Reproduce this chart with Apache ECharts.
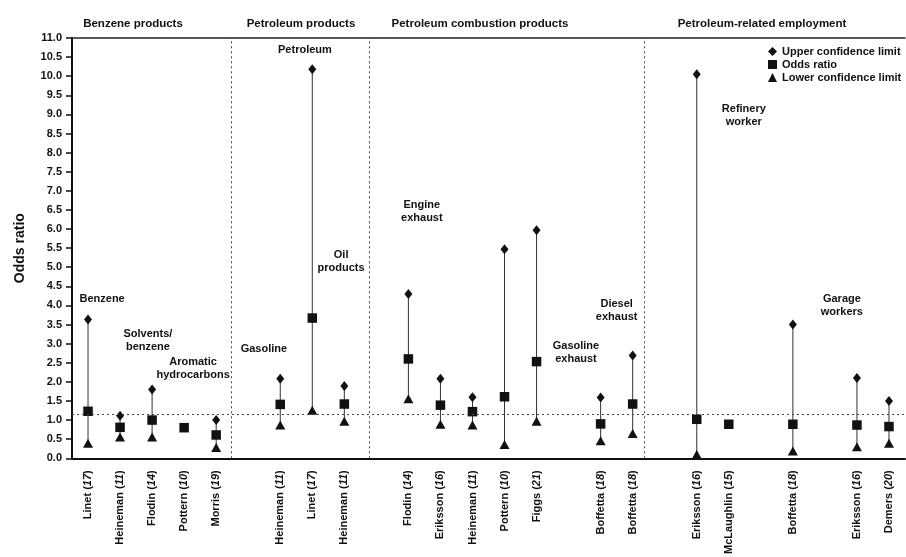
<!DOCTYPE html>
<html>
<head>
<meta charset="utf-8">
<script src="https://cdn.jsdelivr.net/npm/echarts@6/dist/echarts.min.js"></script>
<style>html,body{margin:0;padding:0;background:#fff}#c{width:906px;height:557px}</style>
</head>
<body>
<div id="c"></div>
<script>
// ---- data ----
const authors = ['Linet','Heineman','Flodin','Pottern','Morris',null,'Heineman','Linet','Heineman',null,'Flodin','Eriksson','Heineman','Pottern','Figgs',null,'Boffetta','Boffetta',null,'Eriksson','McLaughlin',null,'Boffetta',null,'Eriksson','Demers'];
const refs = ['17','11','14','10','19',null,'11','17','11',null,'14','16','11','10','21',null,'18','18',null,'16','15',null,'18',null,'16','20'];
const upper = [3.63,1.11,1.8,null,1.0,null,2.08,10.18,1.89,null,4.3,2.08,1.6,5.47,5.97,null,1.59,2.69,null,10.05,null,null,3.5,null,2.1,1.5];
const oddsRatio = [1.23,0.81,1.0,0.8,0.61,null,1.41,3.67,1.42,null,2.6,1.39,1.22,1.61,2.53,null,0.9,1.42,null,1.02,0.89,null,0.89,null,0.87,0.83];
const lower = [0.39,0.56,0.56,null,0.28,null,0.87,1.26,0.97,null,1.56,0.89,0.87,0.36,0.97,null,0.46,0.65,null,0.1,null,null,0.19,null,0.3,0.39];
const referenceLine = 1.15;
const dividers = [4.96, 9.27, 17.85];
const groupTitles = ['Benzene products','Petroleum products','Petroleum combustion products','Petroleum-related employment'];
const annoText = ['Benzene','Solvents/\nbenzene','Aromatic\nhydrocarbons','Gasoline','Petroleum','Oil\nproducts','Engine\nexhaust','Gasoline\nexhaust','Diesel\nexhaust','Refinery\nworker','Garage\nworkers'];
const annoX = [0.94,2.37,3.78,5.99,7.27,8.4,10.92,15.73,17.0,20.97,24.03];
const annoY = [4.17,3.09,2.36,2.86,10.68,5.14,6.45,2.77,3.87,8.96,4.01];
const yTicks = {min:0, max:11, step:0.5};

// ---- chart ----
const FONT = "'Liberation Sans',Arial,sans-serif";
const INK = '#111';
const categories = authors.map((a,i)=> a ? a + ' (' + refs[i] + ')' : '');
const idx = authors.map((_,i)=>i);
const pts = arr => idx.map(i => arr[i] == null ? null : [i, arr[i]]).filter(Boolean);
const ranges = idx.filter(i => upper[i] != null && lower[i] != null).map(i => [i, lower[i], upper[i]]);

const chart = echarts.init(document.getElementById('c'), null, {renderer:'canvas'});
const groupCenters = [133, 301, 480, 762];

chart.setOption({
  backgroundColor:'#fff',
  animation:false,
  textStyle:{fontFamily:FONT, color:INK},
  grid:{left:72, right:1, top:38, bottom:97, containLabel:false},
  legend:{
    orient:'vertical', left:763, top:40,
    itemWidth:9, itemHeight:9, itemGap:0,
    textStyle:{fontFamily:FONT, fontSize:11, fontWeight:'bold', color:INK, lineHeight:13},
    data:['Upper confidence limit','Odds ratio','Lower confidence limit']
  },
  graphic: groupTitles.map((t,k)=>({
    type:'text', x: groupCenters[k], y: 18,
    style:{text:t, textAlign:'center', textVerticalAlign:'top', font:'bold 11.5px ' + FONT, fill:INK}
  })),
  xAxis:[
    {
      type:'category', data:categories, boundaryGap:true, position:'bottom',
      axisLine:{lineStyle:{color:INK, width:2}},
      axisTick:{show:false},
      splitLine:{show:false},
      axisLabel:{
        interval:0, rotate:90, margin:12,
        formatter:(v,i)=> authors[i] ? '{a|' + authors[i] + ' (}{b|' + refs[i] + '}{a|)}' : '',
        rich:{
          a:{fontFamily:FONT, fontSize:11, fontWeight:'bold', color:INK},
          b:{fontFamily:FONT, fontSize:11, fontWeight:'bold', fontStyle:'italic', color:INK}
        }
      }
    },
    {
      type:'value', min:0, max:authors.length, position:'top',
      axisLine:{show:true, onZero:false, lineStyle:{color:'#222', width:1.5}},
      axisTick:{show:false}, axisLabel:{show:false}, splitLine:{show:false}
    }
  ],
  yAxis:{
    type:'value', min:yTicks.min, max:yTicks.max, interval:yTicks.step,
    name:'Odds ratio', nameLocation:'middle', nameGap:45,
    nameTextStyle:{fontFamily:FONT, fontSize:14, fontWeight:'bold', color:INK},
    axisLine:{show:true, lineStyle:{color:INK, width:2}},
    axisTick:{show:true, length:6, lineStyle:{color:INK, width:1.5}},
    splitLine:{show:false},
    axisLabel:{margin:10, fontFamily:FONT, fontSize:11, fontWeight:'bold', color:INK, formatter:v=>v.toFixed(1)}
  },
  series:[
    {
      type:'custom', name:'range', xAxisIndex:0, silent:true,
      data:ranges,
      encode:{x:0, y:[1,2]},
      renderItem:(params, api)=>{
        const p1 = api.coord([api.value(0), api.value(1)]);
        const p2 = api.coord([api.value(0), api.value(2)]);
        return {type:'line', shape:{x1:p1[0], y1:p1[1], x2:p2[0], y2:p2[1]}, style:{stroke:'#333', lineWidth:1}};
      },
      z:1
    },
    {
      type:'scatter', name:'Upper confidence limit', xAxisIndex:0,
      symbol:'diamond', symbolSize:[8,10], itemStyle:{color:INK, opacity:1},
      data:pts(upper), z:3
    },
    {
      type:'scatter', name:'Odds ratio', xAxisIndex:0,
      symbol:'rect', symbolSize:9.5, itemStyle:{color:INK, opacity:1},
      data:pts(oddsRatio), z:3
    },
    {
      type:'scatter', name:'Lower confidence limit', xAxisIndex:0,
      symbol:'triangle', symbolSize:[10,9], itemStyle:{color:INK, opacity:1},
      data:pts(lower), z:3
    },
    {
      type:'scatter', name:'annotations', xAxisIndex:1, silent:true,
      symbolSize:0, itemStyle:{opacity:1},
      data:annoText.map((t,k)=>({value:[annoX[k], annoY[k]], name:t})),
      label:{show:true, position:'inside', formatter:p=>p.name, fontFamily:FONT, fontSize:11, fontWeight:'bold', color:INK, opacity:1, lineHeight:13, align:'center', verticalAlign:'middle'},
      markLine:{
        silent:true, symbol:'none', label:{show:false},
        lineStyle:{type:[2,3], color:'#444', width:1, opacity:1},
        data:[
          ...dividers.map(d=>({xAxis:d})),
          {yAxis:referenceLine}
        ]
      },
      z:2
    }
  ]
});
</script>
</body>
</html>
